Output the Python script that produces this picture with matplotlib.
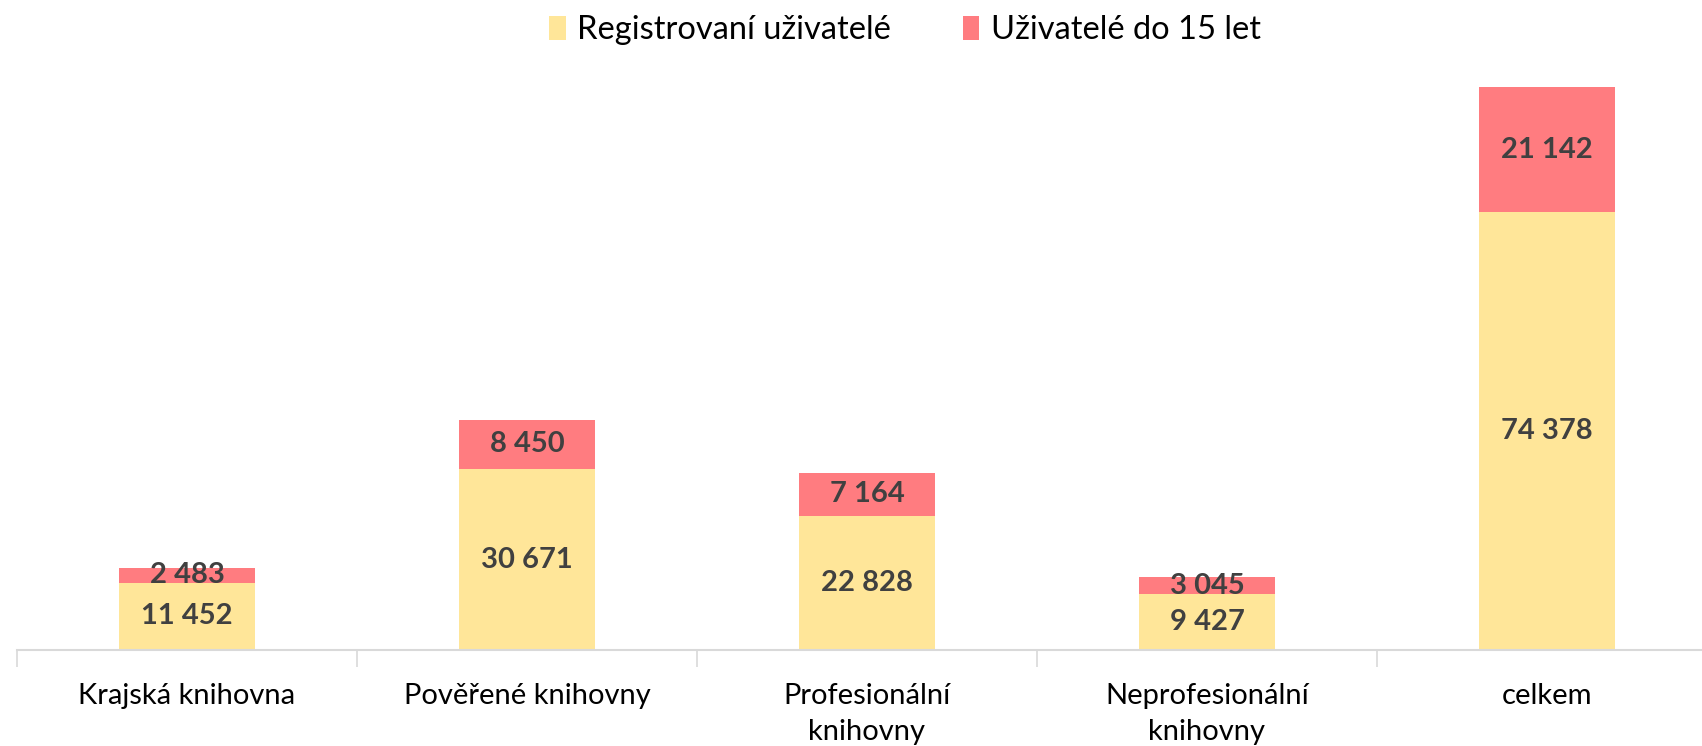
import matplotlib.pyplot as plt
import numpy as np

plt.rcParams['font.family'] = ['Lato', 'DejaVu Sans']

categories = ['Krajská knihovna', 'Pověřené knihovny', 'Profesionální\nknihovny',
              'Neprofesionální\nknihovny', 'celkem']
registered = [11452, 30671, 22828, 9427, 74378]
under15 = [2483, 8450, 7164, 3045, 21142]
series_names = ['Registrovaní uživatelé', 'Uživatelé do 15 let']
colors = ['#FFE699', '#FF7C80']


def fmt(v):
    return f"{v:,}".replace(',', ' ')


fig = plt.figure(figsize=(17.02, 7.46), dpi=100)
ax = fig.add_axes([17 / 1702, 96 / 746, 1700 / 1702, 589 / 746])

x = np.arange(len(categories))
b1 = ax.bar(x, registered, width=0.4, color=colors[0], label=series_names[0])
b2 = ax.bar(x, under15, width=0.4, bottom=registered, color=colors[1], label=series_names[1])

for i in range(len(categories)):
    ax.text(x[i], registered[i] / 2, fmt(registered[i]), ha='center', va='center',
            fontsize=21, fontweight='bold', color='#404040')
    ax.text(x[i], registered[i] + under15[i] / 2, fmt(under15[i]), ha='center', va='center',
            fontsize=21, fontweight='bold', color='#404040')

ax.set_xlim(-0.5, len(categories) - 0.5)
ax.set_ylim(0, 100000)
for s in ['top', 'right', 'left']:
    ax.spines[s].set_visible(False)
ax.spines['bottom'].set_color('#D9D9D9')
ax.spines['bottom'].set_linewidth(1.5)
ax.set_yticks([])

# category labels without ticks, boundary ticks as minor
ax.set_xticks(x)
ax.set_xticklabels(categories, fontsize=21, color='black', linespacing=1.45)
ax.tick_params(axis='x', which='major', length=0, pad=24)
ax.set_xticks(np.arange(-0.5, len(categories) + 0.5, 1), minor=True)
ax.tick_params(axis='x', which='minor', length=12, width=1.2, color='#D9D9D9')

fig.legend(loc='center', bbox_to_anchor=(905 / 1702, 1 - 30 / 746), ncol=2, frameon=False,
           fontsize=23.5, handlelength=0.5, handleheight=0.75, handletextpad=0.35,
           columnspacing=2.2)

fig.savefig('out.png', dpi=100)
